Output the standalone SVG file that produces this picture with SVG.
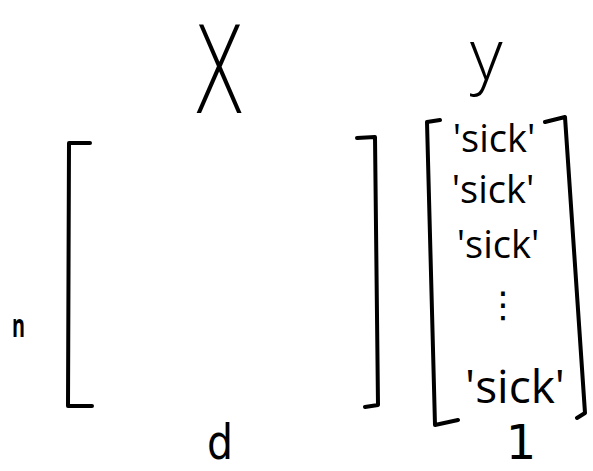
<svg xmlns="http://www.w3.org/2000/svg" width="593" height="471" viewBox="0 0 593 471">
<style>
.t{font-family:"Open Sans","Liberation Sans",sans-serif;font-weight:400;fill:#000}
.d{font-family:"DejaVu Sans","Liberation Sans",sans-serif;font-weight:200;fill:#000}
.b{fill:none;stroke:#000;stroke-width:4;stroke-linecap:round;stroke-linejoin:round}
</style>
<rect width="593" height="471" fill="#fff"/>
<g id="matrix-X">
<text class="d" x="192" y="113" font-size="121" textLength="54" lengthAdjust="spacingAndGlyphs">X</text>
<path class="b" d="M90,143 L69,143 L68,406 L92,406"/>
<path class="b" d="M357,138 L375,137 L378,405 L365,407"/>
</g>
<g id="label-n"><text class="t" x="12" y="337" font-size="32" style="font-weight:700" textLength="13" lengthAdjust="spacingAndGlyphs">n</text></g>
<g id="label-d"><text class="d" x="207" y="459" font-size="48" style="font-weight:400" textLength="26" lengthAdjust="spacingAndGlyphs">d</text></g>
<g id="vector-y">
<text class="t" x="470" y="80" font-size="71" style="font-weight:300">y</text>
<path class="b" d="M440,120 L427,122 L435,425 L458,420"/>
<path class="b" d="M545,122 L565,117 L585,413 L577,418"/>
<text class="t" x="494" y="152" font-size="38" text-anchor="middle">'sick'</text>
<text class="t" x="493" y="203" font-size="38" text-anchor="middle">'sick'</text>
<text class="t" x="498" y="258" font-size="38" text-anchor="middle">'sick'</text>
<text class="t" x="503" y="317" font-size="36" text-anchor="middle" style="font-family:'DejaVu Sans',sans-serif">⋮</text>
<text class="t" x="515" y="403" font-size="46" text-anchor="middle">'sick'</text>
</g>
<g id="label-1"><text class="d" x="521" y="459" font-size="48" style="font-weight:400" text-anchor="middle">1</text></g>
</svg>
